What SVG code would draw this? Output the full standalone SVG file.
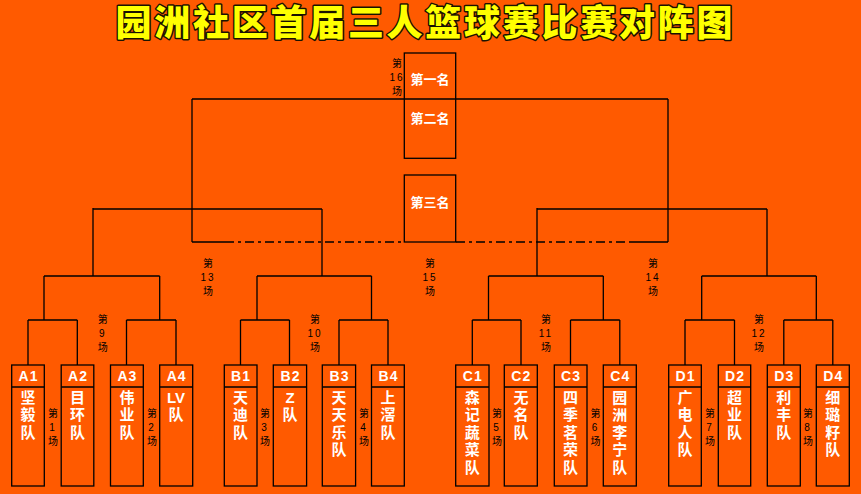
<svg xmlns="http://www.w3.org/2000/svg" width="861" height="494" viewBox="0 0 861 494">
<style>
.bg{fill:#FF5A00}
.ln{stroke:#000;stroke-width:1.3;fill:none}
.dd{stroke:#000;stroke-width:1.3;fill:none;stroke-dasharray:9 4 3 4}
.box{fill:none;stroke:#000;stroke-width:1.3}
.hd{font-family:"Liberation Sans",Arial,sans-serif;font-size:14px;font-weight:bold;fill:#fff;text-anchor:middle;letter-spacing:1px}
.nm{font-family:"Noto Sans CJK SC","Noto Sans",sans-serif;font-size:15px;font-weight:bold;fill:#fff;writing-mode:vertical-rl;text-orientation:upright;letter-spacing:2.5px}
.lat{font-family:"Liberation Sans",Arial,sans-serif;font-size:15px;font-weight:bold;fill:#fff;text-anchor:middle}
.tp{font-family:"Noto Sans CJK SC",sans-serif;font-size:13px;font-weight:bold;fill:#fff;text-anchor:middle}
.mt{font-family:"Noto Sans CJK SC",sans-serif;font-size:10px;fill:#000;text-anchor:middle}
.mn{font-family:"Liberation Sans",Arial,sans-serif;letter-spacing:2px}
.title{font-family:"Noto Sans CJK SC",sans-serif;font-size:36px;font-weight:900;fill:#FFFF00;stroke:#1a1200;stroke-width:3;paint-order:stroke;stroke-linejoin:round;writing-mode:vertical-rl;text-orientation:upright}
</style>
<rect class="bg" x="0" y="0" width="861" height="494"/>
<g id="title"><text class="title" x="133.5 172.2 211 249.7 288.4 327.2 365.9 404.6 443.3 482.1 520.8 559.5 598.3 637 675.7 714.5" y="4 4 4 4 4 4 4 4 4 4 4 4 4 4 4 4">园洲社区首届三人篮球赛比赛对阵图</text></g>

<g id="connectors">
<path class="ln" d="M192,99H668M192,99V242M668,99V242M192,242H225M632,242H668"/>
<path class="dd" d="M225,242H404M456,242H632"/>
<path class="ln" d="M93,209H322M93,208V276M322,209V276M537,209H767M537,208V276M767,209V276"/>
<path class="ln" d="M44,276H159.7M257,276H371.5M488.5,276H603.3M701.7,276H816.3"/>
<path class="ln" d="M44,276V320M159.7,276V320M257,276V320M371.5,276V320M488.5,276V320M603.3,276V320M701.7,276V320M816.3,276V320"/>
<path class="ln" d="M28,320H77.3M126.5,320H176M240.5,320H289.5M339,320H388M472.3,320H521M570.5,320H619.8M685,320H734.5M783.8,320H832.8"/>
<path class="ln" d="M28,320V365M77.3,320V365M126.5,320V365M176,320V365M240.5,320V365M289.5,320V365M339,320V365M388,320V365M472.3,320V365M521,320V365M570.5,320V365M619.8,320V365M685,320V365M734.5,320V365M783.8,320V365M832.8,320V365"/>
</g>

<g id="match-labels">
<text class="mt" x="397" y="66.8">第<tspan class="mn" x="397" y="81.3">16</tspan><tspan x="397" y="94.6">场</tspan></text>
<text class="mt" x="208" y="266.8">第<tspan class="mn" x="208" y="280.6">13</tspan><tspan x="208" y="294.5">场</tspan></text>
<text class="mt" x="430" y="266.8">第<tspan class="mn" x="430" y="280.6">15</tspan><tspan x="430" y="294.5">场</tspan></text>
<text class="mt" x="653" y="266.8">第<tspan class="mn" x="653" y="280.6">14</tspan><tspan x="653" y="294.5">场</tspan></text>
<text class="mt" x="102.7" y="322.8">第<tspan class="mn" x="102.7" y="336.6">9</tspan><tspan x="102.7" y="350.5">场</tspan></text>
<text class="mt" x="315" y="322.8">第<tspan class="mn" x="315" y="336.6">10</tspan><tspan x="315" y="350.5">场</tspan></text>
<text class="mt" x="546" y="322.8">第<tspan class="mn" x="546" y="336.6">11</tspan><tspan x="546" y="350.5">场</tspan></text>
<text class="mt" x="759" y="322.8">第<tspan class="mn" x="759" y="336.6">12</tspan><tspan x="759" y="350.5">场</tspan></text>
<text class="mt" x="53" y="416.8">第<tspan class="mn" x="53" y="430.6">1</tspan><tspan x="53" y="444.5">场</tspan></text>
<text class="mt" x="152" y="416.8">第<tspan class="mn" x="152" y="430.6">2</tspan><tspan x="152" y="444.5">场</tspan></text>
<text class="mt" x="265" y="416.8">第<tspan class="mn" x="265" y="430.6">3</tspan><tspan x="265" y="444.5">场</tspan></text>
<text class="mt" x="364" y="416.8">第<tspan class="mn" x="364" y="430.6">4</tspan><tspan x="364" y="444.5">场</tspan></text>
<text class="mt" x="497" y="416.8">第<tspan class="mn" x="497" y="430.6">5</tspan><tspan x="497" y="444.5">场</tspan></text>
<text class="mt" x="595.5" y="416.8">第<tspan class="mn" x="595.5" y="430.6">6</tspan><tspan x="595.5" y="444.5">场</tspan></text>
<text class="mt" x="710" y="416.8">第<tspan class="mn" x="710" y="430.6">7</tspan><tspan x="710" y="444.5">场</tspan></text>
<text class="mt" x="808" y="416.8">第<tspan class="mn" x="808" y="430.6">8</tspan><tspan x="808" y="444.5">场</tspan></text>
</g>

<g id="final">
<rect class="box" x="404.3" y="53" width="51.4" height="105.3"/>
<text class="tp" x="430" y="84.3">第一名</text>
<text class="tp" x="430" y="123">第二名</text>
</g>
<g id="third">
<rect class="box" x="404.3" y="175" width="51.4" height="67"/>
<text class="tp" x="430" y="206.7">第三名</text>
</g>

<g id="A1"><rect class="box" x="11.7" y="365" width="32.6" height="121"/><path class="ln" d="M11.7,387H44.3"/><text class="hd" x="28.5" y="381">A1</text><text class="nm" x="28" y="389.5">坚毅队</text></g>
<g id="A2"><rect class="box" x="61.2" y="365" width="32.6" height="121"/><path class="ln" d="M61.2,387H93.8"/><text class="hd" x="78" y="381">A2</text><text class="nm" x="77.5" y="389.5">目环队</text></g>
<g id="A3"><rect class="box" x="110.5" y="365" width="32.8" height="121"/><path class="ln" d="M110.5,387H143.3"/><text class="hd" x="127.4" y="381">A3</text><text class="nm" x="127" y="389.5">伟业队</text></g>
<g id="A4"><rect class="box" x="159.7" y="365" width="33" height="121"/><path class="ln" d="M159.7,387H192.7"/><text class="hd" x="176.7" y="381">A4</text><text class="lat" x="176" y="402.5">LV</text><text class="nm" x="176" y="407">队</text></g>

<g id="B1"><rect class="box" x="224.3" y="365" width="32.7" height="121"/><path class="ln" d="M224.3,387H257"/><text class="hd" x="241" y="381">B1</text><text class="nm" x="240.5" y="389.5">天迪队</text></g>
<g id="B2"><rect class="box" x="273.3" y="365" width="33.3" height="121"/><path class="ln" d="M273.3,387H306.6"/><text class="hd" x="290.5" y="381">B2</text><text class="lat" x="290" y="402.5">Z</text><text class="nm" x="290" y="407">队</text></g>
<g id="B3"><rect class="box" x="322.3" y="365" width="33.3" height="121"/><path class="ln" d="M322.3,387H355.6"/><text class="hd" x="339.5" y="381">B3</text><text class="nm" x="339" y="389.5">天天乐队</text></g>
<g id="B4"><rect class="box" x="371.5" y="365" width="32.8" height="121"/><path class="ln" d="M371.5,387H404.3"/><text class="hd" x="388.5" y="381">B4</text><text class="nm" x="388" y="389.5">上滘队</text></g>

<g id="C1"><rect class="box" x="455.7" y="365" width="33.3" height="121"/><path class="ln" d="M455.7,387H489"/><text class="hd" x="472.8" y="381">C1</text><text class="nm" x="472.3" y="389.5">森记蔬菜队</text></g>
<g id="C2"><rect class="box" x="504.3" y="365" width="33" height="121"/><path class="ln" d="M504.3,387H537.3"/><text class="hd" x="521.3" y="381">C2</text><text class="nm" x="521" y="389.5">无名队</text></g>
<g id="C3"><rect class="box" x="554.3" y="365" width="32.7" height="121"/><path class="ln" d="M554.3,387H587"/><text class="hd" x="571" y="381">C3</text><text class="nm" x="570.5" y="389.5">四季茗荣队</text></g>
<g id="C4"><rect class="box" x="603.3" y="365" width="33" height="121"/><path class="ln" d="M603.3,387H636.3"/><text class="hd" x="620.3" y="381">C4</text><text class="nm" x="619.8" y="389.5">园洲李宁队</text></g>

<g id="D1"><rect class="box" x="668.7" y="365" width="32.6" height="121"/><path class="ln" d="M668.7,387H701.3"/><text class="hd" x="685.5" y="381">D1</text><text class="nm" x="685" y="389.5">广电人队</text></g>
<g id="D2"><rect class="box" x="718.3" y="365" width="32.4" height="121"/><path class="ln" d="M718.3,387H750.7"/><text class="hd" x="735" y="381">D2</text><text class="nm" x="734.5" y="389.5">超业队</text></g>
<g id="D3"><rect class="box" x="767.3" y="365" width="33" height="121"/><path class="ln" d="M767.3,387H800.3"/><text class="hd" x="784.3" y="381">D3</text><text class="nm" x="783.8" y="389.5">利丰队</text></g>
<g id="D4"><rect class="box" x="816.3" y="365" width="33" height="121"/><path class="ln" d="M816.3,387H849.3"/><text class="hd" x="833.3" y="381">D4</text><text class="nm" x="832.8" y="389.5">细璐籽队</text></g>
</svg>
